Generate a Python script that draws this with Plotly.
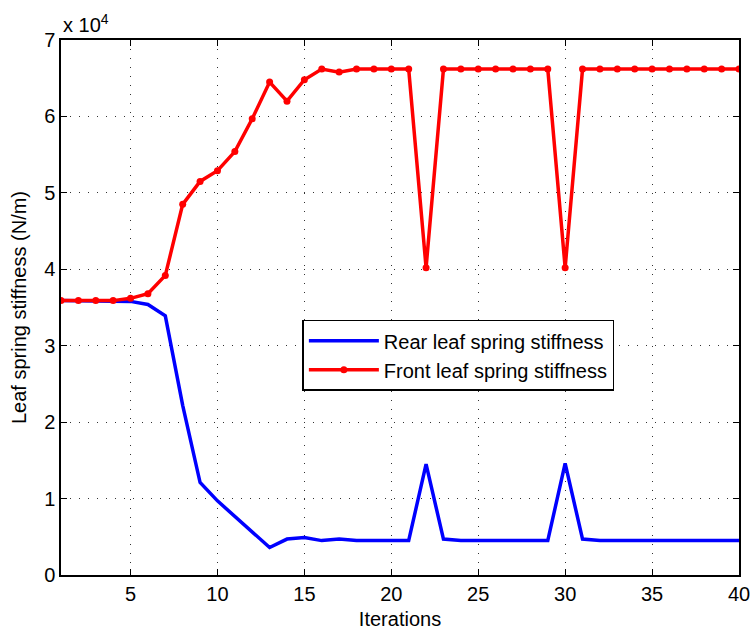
import plotly.graph_objects as go

iterations = list(range(1, 41))
rear_stiffness = [35900, 35900, 35900, 35900, 35800, 35400, 33900, 22200, 12100, 9700,
                  7700, 5600, 3600, 4700, 4900, 4500, 4700, 4500, 4500, 4500,
                  4500, 14500, 4700, 4500, 4500, 4500, 4500, 4500, 4500, 14600,
                  4700, 4500, 4500, 4500, 4500, 4500, 4500, 4500, 4500, 4500]
front_stiffness = [35900, 35900, 35900, 35900, 36200, 36800, 39200, 48500, 51500, 52900,
                   55400, 59700, 64500, 62000, 64800, 66200, 65800, 66200, 66200, 66200,
                   66200, 40200, 66200, 66200, 66200, 66200, 66200, 66200, 66200, 40200,
                   66200, 66200, 66200, 66200, 66200, 66200, 66200, 66200, 66200, 66200]
x_ticks = [5, 10, 15, 20, 25, 30, 35, 40]
y_ticks = [0, 10000, 20000, 30000, 40000, 50000, 60000, 70000]
y_tick_text = ["0", "1", "2", "3", "4", "5", "6", "7"]

FONT = "Liberation Sans, Arial, Helvetica, sans-serif"

fig = go.Figure()
fig.add_trace(go.Scatter(
    x=iterations, y=rear_stiffness, mode="lines",
    name="Rear leaf spring stiffness",
    line=dict(color="#0000ff", width=3.5),
))
fig.add_trace(go.Scatter(
    x=iterations, y=front_stiffness, mode="lines+markers",
    name="Front leaf spring stiffness",
    line=dict(color="#ff0000", width=3.5),
    marker=dict(color="#ff0000", size=7),
))

axis_common = dict(
    showline=True, linecolor="black", linewidth=1.5, mirror="ticks",
    ticks="inside", ticklen=6, tickcolor="black", tickwidth=1,
    showgrid=True, gridcolor="#333333", griddash="1px,8px", gridwidth=1,
    zeroline=False, automargin=False,
    tickfont=dict(size=20, color="black", family=FONT),
)

fig.update_layout(
    width=752, height=630,
    margin=dict(l=61, r=13, t=40, b=55),
    paper_bgcolor="white", plot_bgcolor="white",
    font=dict(family=FONT, size=20, color="black"),
    xaxis=dict(range=[1, 40], tickvals=x_ticks,
               title=dict(text="Iterations", standoff=8, font=dict(size=20)),
               **axis_common),
    yaxis=dict(range=[0, 70000], tickvals=y_ticks, ticktext=y_tick_text,
               title=dict(text="Leaf spring stiffness (N/m)", standoff=12, font=dict(size=20)),
               **axis_common),
    legend=dict(
        x=0.356, y=0.477, xanchor="left", yanchor="top",
        bgcolor="white", bordercolor="black", borderwidth=1.5,
        font=dict(size=20, family=FONT, color="black"),
        itemwidth=70, tracegroupgap=0,
    ),
    showlegend=True,
)

fig.add_annotation(
    xref="paper", yref="paper", x=0, y=1.0, xanchor="left", yanchor="bottom",
    text="x 10<sup>4</sup>", showarrow=False, yshift=2,
    font=dict(size=20, family=FONT, color="black"),
)

fig.write_html("out.html")
